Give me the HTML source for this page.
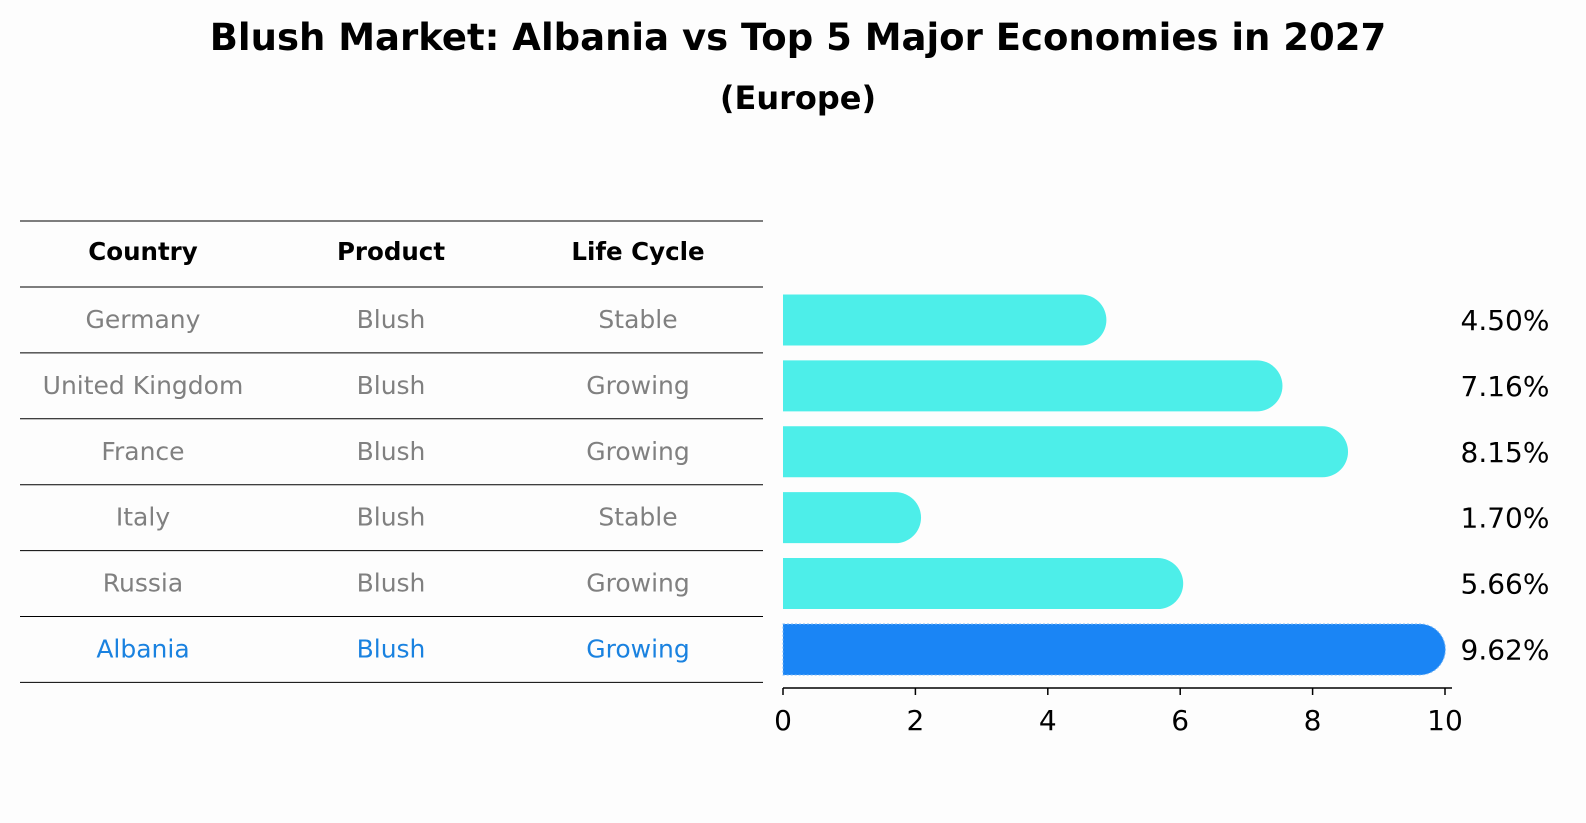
<!DOCTYPE html>
<html><head><meta charset="utf-8"><style>
body{margin:0;background:#fdfdfd;}
svg{display:block;font-family:"DejaVu Sans","Liberation Sans",sans-serif;}
</style></head><body>
<svg id="c" width="1586" height="823" viewBox="0 0 1586 823">
<rect width="1586" height="823" fill="#fdfdfd"/>
<text x="798" y="50" text-anchor="middle" font-size="37" font-weight="bold">Blush Market: Albania vs Top 5 Major Economies in 2027</text>
<text x="798" y="109" text-anchor="middle" font-size="32" font-weight="bold">(Europe)</text>
<g id="table"></g>
<g id="bars"></g>
<g id="axis"></g>
</svg>
<script>
const countries=["Germany","United Kingdom","France","Italy","Russia","Albania"];
const products=["Blush","Blush","Blush","Blush","Blush","Blush"];
const lifecycle=["Stable","Growing","Growing","Stable","Growing","Growing"];
const values=[4.50,7.16,8.15,1.70,5.66,9.62];
const ticks=[0,2,4,6,8,10];
const NS="http://www.w3.org/2000/svg";
function mk(t,a,p){const e=document.createElementNS(NS,t);for(const k in a)e.setAttribute(k,a[k]);p.appendChild(e);return e;}
const x0=783,x1=1445,xmax=10;
const X=v=>x0+(x1-x0)*v/xmax;
const rowTop=287,rowH=65.9,barH=51;
const Y=i=>rowTop+rowH*i+rowH/2;
const tbl=document.getElementById('table');
const cols=[143,391,638];
const hdr=["Country","Product","Life Cycle"];
hdr.forEach((h,j)=>{const t=mk('text',{x:cols[j],y:260,'text-anchor':'middle','font-size':24.5,'font-weight':'bold'},tbl);t.textContent=h;

});
for(let i=0;i<=countries.length+1;i++){const y=i==0?221:rowTop+rowH*(i-1);
const l=mk('line',{x1:20,x2:763,y1:y,y2:y,stroke:'#000','stroke-width':1},tbl);

}
countries.forEach((c,i)=>{const col=i==countries.length-1?'#1a82e0':'#808080';
[c,products[i],lifecycle[i]].forEach((s,j)=>{const t=mk('text',{x:cols[j],y:Y(i)+8,'text-anchor':'middle','font-size':25,fill:col},tbl);t.textContent=s;

});});
const bars=document.getElementById('bars');
values.forEach((v,i)=>{const isA=i==values.length-1;const col=isA?'#1a85f5':'#4deee9';
const yt=Y(i)-barH/2,r=barH/2,xe=X(v);
const p=mk('path',{d:`M${x0},${yt}H${xe}A${r},${r} 0 0 1 ${xe},${yt+barH}H${x0}Z`,fill:col},bars);
if(isA){p.setAttribute('stroke','#7ab8f5');p.setAttribute('stroke-dasharray','2,2');p.setAttribute('stroke-width','1');}


const t=mk('text',{x:1505,y:Y(i)+10,'text-anchor':'middle','font-size':28},bars);t.textContent=v.toFixed(2)+'%';

});
const ax=document.getElementById('axis');
mk('line',{x1:x0,x2:1452,y1:688,y2:688,stroke:'#000','stroke-width':1.5},ax);
ticks.forEach(v=>{mk('line',{x1:X(v),x2:X(v),y1:688,y2:695,stroke:'#000','stroke-width':1.5},ax);
const t=mk('text',{x:X(v),y:730,'text-anchor':'middle','font-size':28},ax);t.textContent=v;

});
</script>
</body></html>
